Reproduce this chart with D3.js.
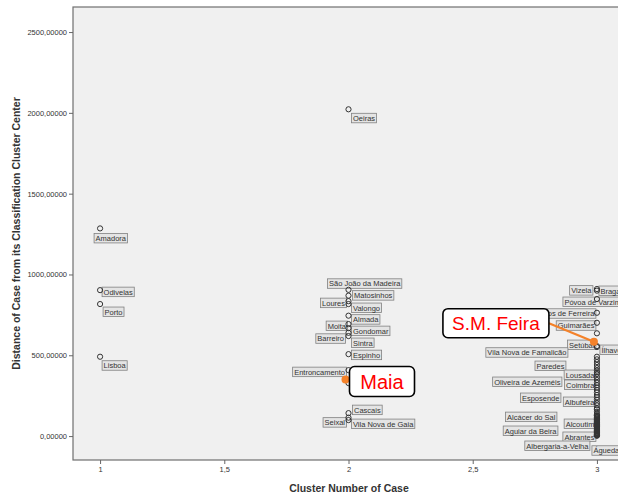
<!DOCTYPE html>
<meta charset="utf-8">
<style>
body { margin: 0; background: #fff; }
svg { font-family: "Liberation Sans", Arial, sans-serif; }
.tick text { fill: #333; font-size: 7.5px; }
.tick line { stroke: #666; }
.lab rect { fill: #e4e4e4; stroke: #808080; stroke-width: 0.8; }
.lab text { fill: #333; font-size: 7.5px; }
.pt { fill: none; stroke: #333; stroke-width: 1; }
</style>
<body>
<svg width="618" height="494"></svg>
<script src="https://d3js.org/d3.v7.min.js"></script>
<script>
var svg = d3.select("svg");

// cluster 1, 2, 3 cases (name, distance); "" = unlabeled
var cluster1 = [["Amadora", 1285], ["Odivelas", 903], ["Porto", 817], ["Lisboa", 491]];

var cluster2 = [["Oeiras", 2022], ["São João da Madeira", 905], ["Matosinhos", 869],
  ["Loures", 835], ["Valongo", 817], ["Almada", 745], ["Moita", 693], ["Gondomar", 668],
  ["Barreiro", 639], ["Sintra", 619], ["Espinho", 507], ["Entroncamento", 408],
  ["", 328], ["Cascais", 142], ["Seixal", 114], ["Vila Nova de Gaia", 99]];

var cluster3 = [["Braga", 910], ["Vizela", 900], ["Póvoa de Varzim", 848],
  ["Paços de Ferreira", 763], ["Guimarães", 701], ["", 636], ["Setúbal", 557],
  ["Ílhavo", 551], ["Vila Nova de Famalicão", 491], ["Paredes", 458], ["Lousada", 421],
  ["Oliveira de Azeméis", 384], ["Coimbra", 347], ["Esposende", 285], ["Albufeira", 254],
  ["Alcácer do Sal", 173], ["Alcoutim", 124], ["Aguiar da Beira", 87], ["Abrantes", 50],
  ["Albergaria-a-Velha", 19], ["Águeda", 2]];

var cluster3Extra = [475, 440, 405, 395, 365, 330, 315, 300, 270, 240, 225, 205, 190, 165,
  150, 135, 128, 125, 118, 114, 110, 104, 100, 96, 90, 86, 82, 77, 73, 70, 67, 64, 61, 58,
  55, 50, 45, 40, 37, 34, 31, 29, 24, 20, 15, 12, 10, 6, 4];

// highlighted cases
var highlights = [["Maia", 2, 350], ["S.M. Feira", 3, 584]];

var xTicks = [1, 1.5, 2, 2.5, 3];
var yTicks = [0, 500, 1000, 1500, 2000, 2500];

// label box placement: [dx, dy, align] align 0=start at dx, 1=end at dx
var place = {
  "Amadora": [-6, 5, 0], "Odivelas": [2, -3, 0], "Porto": [3, 3, 0], "Lisboa": [2, 4, 0],
  "Oeiras": [3, 4, 0], "São João da Madeira": [-21, -11, 0], "Matosinhos": [4, -5, 0],
  "Loures": [-2, -3, 1], "Valongo": [3, -1, 0], "Almada": [3, -1, 0], "Moita": [-1, -3, 1],
  "Gondomar": [3, -2, 0], "Barreiro": [-3, 1, 1], "Sintra": [3, 2, 0], "Espinho": [3, -4, 0],
  "Entroncamento": [-2, -3, 1], "Cascais": [4, -8, 0], "Seixal": [-2, 0, 1],
  "Vila Nova de Gaia": [3, -1, 0],
  "Braga": [2, -3, 0], "Vizela": [-4, -5, 1], "Póvoa de Varzim": [-34, -2, 0],
  "Paços de Ferreira": [-1, -4, 1], "Guimarães": [-1, -2, 1], "Setúbal": [-1, -6, 1],
  "Ílhavo": [3, -2, 0], "Vila Nova de Famalicão": [-29, -9, 1], "Paredes": [-31, -1, 1],
  "Lousada": [-1, 2, 1], "Oliveira de Azeméis": [-35, 3, 1], "Coimbra": [-1, 0, 1],
  "Esposende": [-36, 3, 1], "Albufeira": [-1, 2, 1], "Alcácer do Sal": [-40, 4, 1],
  "Alcoutim": [-1, 3, 1], "Aguiar da Beira": [-39, 4, 1], "Abrantes": [-1, 4, 1],
  "Albergaria-a-Velha": [-7, 8, 1], "Águeda": [-5, 10, 0]
};

var plotL = 73, plotT = 7, plotR = 624, plotB = 460;
var x = d3.scaleLinear().domain([0.891, 3.109]).range([plotL, plotR]);
var y = d3.scaleLinear().domain([-148, 2655]).range([plotB, plotT]);

svg.append("rect")
  .attr("x", plotL).attr("y", plotT)
  .attr("width", plotR - plotL).attr("height", plotB - plotT)
  .style("fill", "#f0f0f0").style("stroke", "#6f6f6f").style("stroke-width", 1.2);

var comma = function(s) { return s.replace(".", ","); };

var yAxis = svg.append("g")
  .attr("transform", "translate(" + plotL + ",0)")
  .call(d3.axisLeft(y).tickValues(yTicks).tickSize(4).tickPadding(2)
    .tickFormat(function(d) { return comma(d3.format(".5f")(d)); }));
yAxis.select(".domain").remove();

var xAxis = svg.append("g")
  .attr("transform", "translate(0," + plotB + ")")
  .call(d3.axisBottom(x).tickValues(xTicks).tickSize(4).tickPadding(3)
    .tickFormat(function(d) { return comma(String(d)); }));
xAxis.select(".domain").remove();

svg.append("text")
  .attr("transform", "translate(20," + ((plotT + plotB) / 2) + ") rotate(-90)")
  .attr("text-anchor", "middle")
  .style("font-weight", "bold").style("font-size", "10.5px").style("fill", "#333")
  .text("Distance of Case from its Classification Cluster Center");

svg.append("text")
  .attr("x", 349).attr("y", 492)
  .attr("text-anchor", "middle")
  .style("font-weight", "bold").style("font-size", "10.5px").style("fill", "#333")
  .text("Cluster Number of Case");

// all points
var points = [];
cluster1.forEach(function(d) { points.push({name: d[0], c: 1, v: d[1]}); });
cluster2.forEach(function(d) { points.push({name: d[0], c: 2, v: d[1]}); });
cluster3.forEach(function(d) { points.push({name: d[0], c: 3, v: d[1]}); });
cluster3Extra.forEach(function(v) { points.push({name: "", c: 3, v: v}); });

// labels first, circles drawn on top
var labs = svg.append("g").selectAll("g")
  .data(points.filter(function(d) { return d.name; }))
  .enter().append("g")
  .attr("class", "lab");

labs.each(function(d) {
  var g = d3.select(this);
  var t = g.append("text").text(d.name);
  var w = t.node().getComputedTextLength() + 3;
  var p = place[d.name] || [3, 1, 0];
  var bx = x(d.c) + p[0] - p[2] * w;
  var by = y(d.v) + p[1];
  g.insert("rect", "text")
    .attr("x", bx).attr("y", by).attr("width", w).attr("height", 9.5);
  t.attr("x", bx + 1.5).attr("y", by + 7.5);
});

svg.append("g").selectAll("circle")
  .data(points)
  .enter().append("circle")
  .attr("class", "pt")
  .attr("cx", function(d) { return x(d.c); })
  .attr("cy", function(d) { return y(d.v); })
  .attr("r", 2.6);

// highlighted callouts
var orange = "#f4822a";
highlights.forEach(function(h) {
  var px = x(h[1]) - 3, py = y(h[2]);
  var g = svg.append("g");
  var bx, by, bw, bh, fs;
  if (h[0] === "Maia") {
    bw = 65; bh = 30; bx = px + 4; by = py - 13; fs = 20;
  } else {
    bw = 106; bh = 29; bx = px - 151; by = py - 33; fs = 19;
    g.append("line")
      .attr("x1", bx + bw).attr("y1", by + bh / 2)
      .attr("x2", px).attr("y2", py)
      .style("stroke", orange).style("stroke-width", 2.2);
  }
  g.append("circle")
    .attr("cx", px).attr("cy", py).attr("r", 4)
    .style("fill", orange);
  g.append("rect")
    .attr("x", bx).attr("y", by).attr("width", bw).attr("height", bh)
    .attr("rx", 5)
    .style("fill", "#fff").style("stroke", "#000").style("stroke-width", 1.6);
  g.append("text")
    .attr("x", bx + bw / 2).attr("y", by + bh / 2 + fs * 0.36)
    .attr("text-anchor", "middle")
    .style("fill", "#ff0000").style("font-size", fs + "px")
    .text(h[0]);
});
</script>
</body>
